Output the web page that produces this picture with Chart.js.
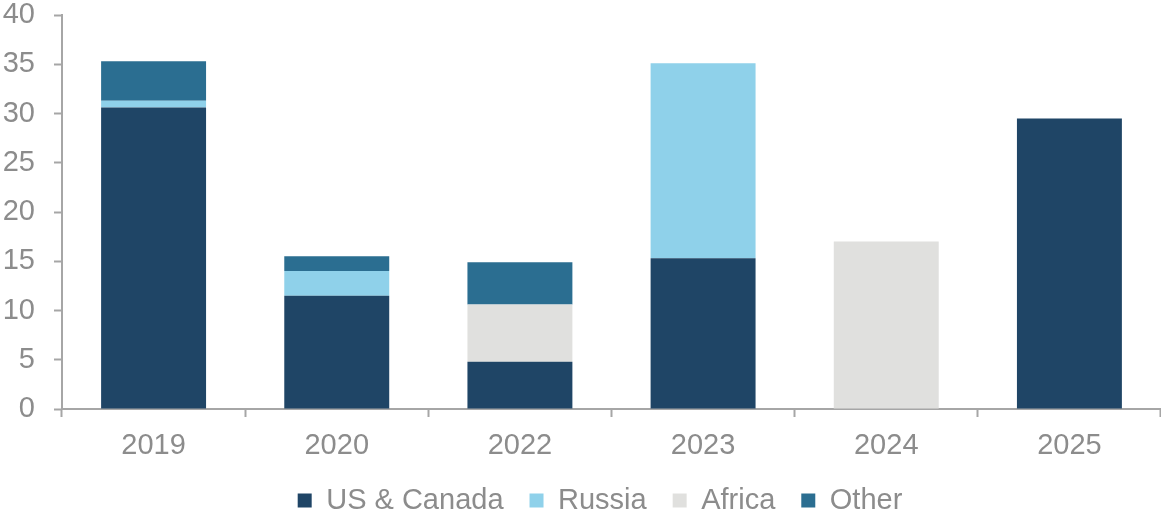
<!DOCTYPE html>
<html>
<head>
<meta charset="utf-8">
<script src="https://cdn.jsdelivr.net/npm/chart.js@4.4.1/dist/chart.umd.min.js"></script>
<style>
  html, body { margin: 0; padding: 0; background: #fff; }
  #wrap { width: 1161px; height: 515px; position: relative; }
</style>
</head>
<body>
<div id="wrap"><canvas id="chart"></canvas></div>
<script>
// catégories et valeurs
const years = ["2019", "2020", "2022", "2023", "2024", "2025"];
const usCanada = [30.6, 11.5, 4.8, 15.3, null, 29.5];
const russia = [0.7, 2.5, null, 19.8, null, null];
const africa = [null, null, 5.8, null, 17.0, null];
const other = [4.0, 1.5, 4.3, null, null, null];
const yTicks = [0, 5, 10, 15, 20, 25, 30, 35, 40];

const textColor = "#8c8c8c";
const axisColor = "#a6a6a6";
const fontFamily = "'Liberation Sans', Arial, sans-serif";

function serie(label, data, color) {
  return {
    label: label,
    data: data,
    backgroundColor: color,
    borderWidth: 0,
    categoryPercentage: 1,
    barPercentage: 0.573,
  };
}

// décale un peu la légende vers la droite, comme sur l'original
const legendShift = {
  id: "legendShift",
  afterLayout(chart) {
    chart.legend.left += 18;
    chart.legend.right += 18;
  },
};

new Chart(document.getElementById("chart"), {
  type: "bar",
  data: {
    labels: years,
    datasets: [
      serie("US & Canada", usCanada, "#1f4566"),
      serie("Russia", russia, "#8fd1ea"),
      serie("Africa", africa, "#e0e0de"),
      serie("Other", other, "#2b6e91"),
    ],
  },
  plugins: [legendShift],
  options: {
    responsive: true,
    maintainAspectRatio: false,
    animation: false,
    layout: { padding: { left: 3, right: 0, top: 0, bottom: -10 } },
    scales: {
      x: {
        stacked: true,
        afterFit: (axis) => {
          axis.height = 51;
        },
        grid: {
          offset: true,
          drawOnChartArea: false,
          tickLength: 8,
          tickColor: axisColor,
          tickWidth: 2,
        },
        border: { color: axisColor, width: 2 },
        ticks: {
          color: textColor,
          font: { family: fontFamily, size: 29 },
          padding: 12,
        },
      },
      y: {
        stacked: true,
        min: 0,
        max: 40,
        afterBuildTicks: (axis) => {
          axis.ticks = yTicks.map((v) => ({ value: v }));
        },
        afterFit: (axis) => {
          axis.width = 59;
          axis.paddingTop = 15;
        },
        grid: {
          drawOnChartArea: false,
          tickLength: 8,
          tickColor: axisColor,
          tickWidth: 2,
        },
        border: { color: axisColor, width: 2 },
        ticks: {
          color: textColor,
          font: { family: fontFamily, size: 29 },
          padding: 19,
        },
      },
    },
    plugins: {
      legend: {
        position: "bottom",
        labels: {
          color: textColor,
          font: { family: fontFamily, size: 29 },
          boxWidth: 14,
          boxHeight: 14,
          padding: 26,
        },
      },
      tooltip: { enabled: false },
    },
  },
});
</script>
</body>
</html>
